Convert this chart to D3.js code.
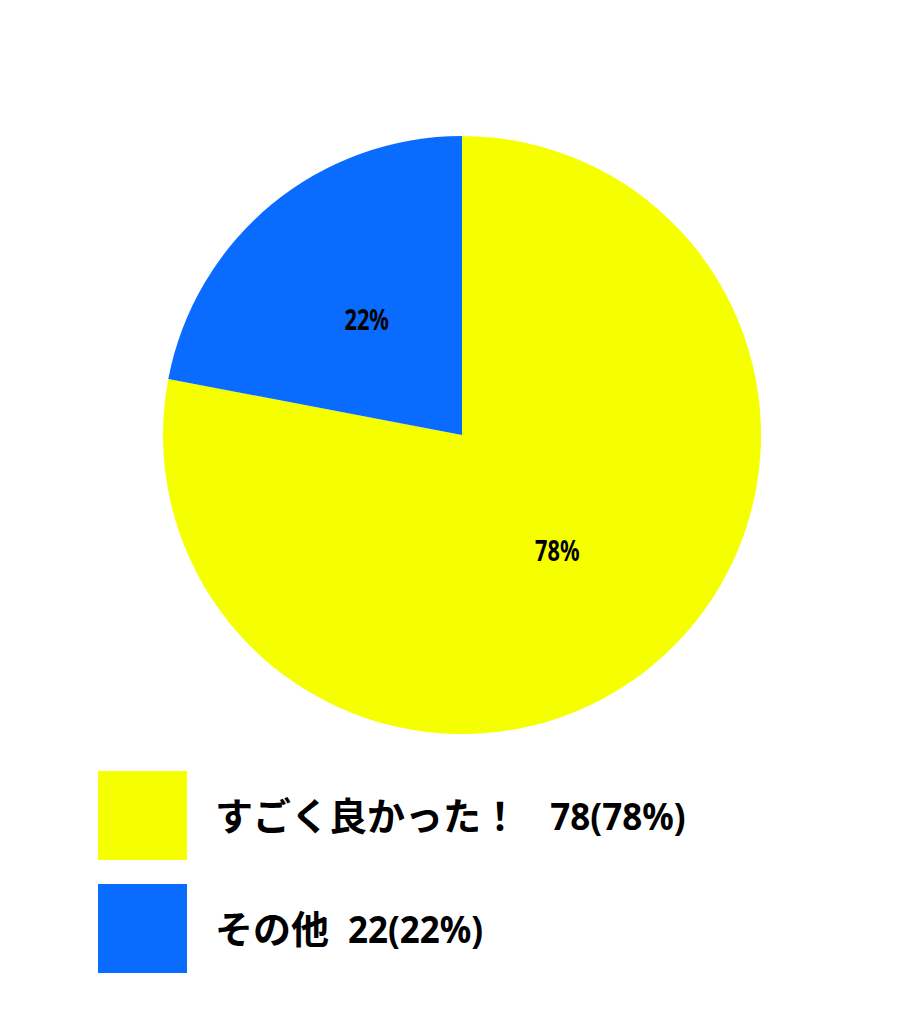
<!DOCTYPE html>
<html><head><meta charset="utf-8">
<script src="https://cdn.jsdelivr.net/npm/d3@7"></script>
<style>
html,body{margin:0;padding:0;background:#fff;}
text{white-space:pre;}
</style></head>
<body>
<svg id="chart" width="921" height="1024"></svg>
<script>
const categories = ["すごく良かった！", "その他"];
const values = [78, 22];
const colors = ["#F5FF00", "#0A6BFF"];
const legendSep = ["\u2002\u2008", "\u2002"];

const svg = d3.select("#chart");
const cx = 462, cy = 435, R = 299;
const total = d3.sum(values);
const pct = v => Math.round(v / total * 100) + "%";
const pie = d3.pie().sort(null).value(d => d)(values);
const arc = d3.arc().innerRadius(0).outerRadius(R);

const g = svg.append("g").attr("transform", `translate(${cx},${cy})`);
g.selectAll("path").data(pie).join("path")
  .attr("d", arc).attr("fill", (d,i) => colors[i]);

const numFont = "'Noto Sans', sans-serif";
g.selectAll("text").data(pie).join("text")
  .attr("transform", d => `translate(${arc.centroid(d)}) scale(0.75,1)`)
  .attr("text-anchor", "middle").attr("dy", "0.36em")
  .style("font-family", numFont)
  .style("font-weight", "bold").style("font-size", "29px")
  .text(d => pct(d.value));

const legend = svg.append("g");
const rowY = d3.scaleBand().domain(categories).range([771, 771 + 2 * 113]);
const item = legend.selectAll("g").data(categories).join("g")
  .attr("transform", d => `translate(98,${rowY(d)})`);
item.append("rect").attr("width", 89).attr("height", 89)
  .attr("fill", (d,i) => colors[i]);
item.each(function(d, i) {
  const gi = d3.select(this);
  const jp = gi.append("text").attr("x", 117).attr("y", 59)
    .style("font-family", "'Noto Sans CJK JP', sans-serif")
    .style("font-weight", "bold").style("font-size", "38px")
    .text(d + legendSep[i]);
  const w = jp.node().getComputedTextLength();
  gi.append("text")
    .attr("transform", `translate(${117 + w},59) scale(0.92,1)`)
    .style("font-family", numFont)
    .style("font-weight", "bold").style("font-size", "38px")
    .text(values[i] + "(" + pct(values[i]) + ")");
});
</script>
</body></html>
